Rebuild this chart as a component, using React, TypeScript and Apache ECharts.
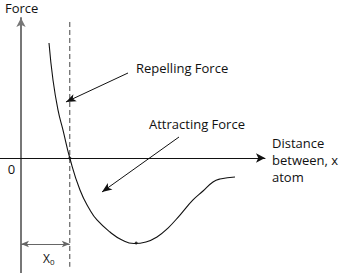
import React, { useEffect, useRef } from "react";
import * as echarts from "echarts";

// Force–distance curve (arbitrary units): x = distance in units of x0, y = force
const curveX = [0.574, 0.656, 0.758, 0.861, 1.0, 1.209, 1.414, 1.557, 1.824, 2.07, 2.316, 2.561, 2.787, 3.012, 3.258, 3.525, 3.73, 3.934, 4.078, 4.385];
const curveY = [1.353, 0.918, 0.565, 0.329, 0, -0.376, -0.612, -0.729, -0.871, -0.965, -1.006, -0.988, -0.929, -0.824, -0.671, -0.494, -0.388, -0.282, -0.247, -0.224];

// Equilibrium separation and potential-well minimum
const x0 = 1.0;
const minPoint = [2.36, -1.0];
const zeroPoint = [1.0, 0];

// Axis ranges
const xRange = [-0.43, 5];
const yRange = [-1.353, 1.647];

// Dashed guide at x0
const guideY = [1.6, -1.28];
// x0 dimension arrow height
const dimY = -1.012;

// Annotation arrows: [from, to]
const repelArrow = [[2.193, 1.0], [0.922, 0.659]];
const attractArrow = [[3.238, 0.247], [1.66, -0.4]];

const FONT = "Open Sans";

export default function App() {
  const ref = useRef<HTMLDivElement>(null);
  useEffect(() => {
    if (!ref.current) return;
    const chart = echarts.init(ref.current, undefined, { renderer: "svg" });
    const curve = curveX.map((x, i) => [x, curveY[i]]);
    chart.setOption({
      animation: false,
      backgroundColor: "#ffffff",
      grid: { left: 0, right: 79, top: 18, bottom: 0 },
      xAxis: {
        type: "value",
        min: xRange[0],
        max: xRange[1],
        axisLine: {
          onZero: true,
          symbol: ["none", "arrow"],
          symbolSize: [7, 9],
          lineStyle: { color: "#111", width: 1 },
        },
        axisTick: { show: false },
        axisLabel: { show: false },
        splitLine: { show: false },
      },
      yAxis: {
        type: "value",
        min: yRange[0],
        max: yRange[1],
        axisLine: {
          onZero: true,
          symbol: ["none", "arrow"],
          symbolSize: [7, 9],
          lineStyle: { color: "#777", width: 2 },
        },
        axisTick: { show: false },
        axisLabel: { show: false },
        splitLine: { show: false },
      },
      series: [
        {
          type: "line",
          data: curve,
          smooth: 0.5,
          showSymbol: false,
          lineStyle: { color: "#111", width: 1.1 },
          z: 3,
        },
        {
          type: "line",
          data: [[x0, guideY[0]], [x0, guideY[1]]],
          showSymbol: false,
          lineStyle: { color: "#444", width: 1, type: [5, 3] },
          z: 2,
        },
        {
          type: "scatter",
          data: [minPoint, zeroPoint],
          symbolSize: 3,
          itemStyle: { color: "#111" },
          z: 4,
        },
        {
          type: "line",
          data: [],
          markLine: {
            silent: true,
            label: { show: false },
            data: [
              [
                { coord: [0, dimY], symbol: "arrow", symbolSize: [5, 8] },
                { coord: [x0, dimY], symbol: "arrow", symbolSize: [5, 8] },
              ],
              [
                { coord: repelArrow[0], symbol: "none", lineStyle: { color: "#111" } },
                { coord: repelArrow[1], symbol: "arrow", symbolSize: [6, 10], lineStyle: { color: "#111" } },
              ],
              [
                { coord: attractArrow[0], symbol: "none", lineStyle: { color: "#111" } },
                { coord: attractArrow[1], symbol: "arrow", symbolSize: [6, 10], lineStyle: { color: "#111" } },
              ],
            ],
            lineStyle: { color: "#666", width: 1, type: "solid" },
          },
        },
      ],
      graphic: [
        { type: "text", x: 5, y: 8, style: { text: "Force", font: `13px '${FONT}'`, fill: "#111", verticalAlign: "middle" } },
        { type: "text", x: 11.5, y: 169, style: { text: "0", font: `13px '${FONT}'`, fill: "#111", align: "center", verticalAlign: "middle" } },
        { type: "text", x: 136, y: 68, style: { text: "Repelling Force", font: `13px '${FONT}'`, fill: "#111", verticalAlign: "middle" } },
        { type: "text", x: 149, y: 124, style: { text: "Attracting Force", font: `13px '${FONT}'`, fill: "#111", verticalAlign: "middle" } },
        { type: "text", x: 272, y: 134.5, style: { text: "Distance\nbetween, x\natom", font: `13px '${FONT}'`, lineHeight: 17, fill: "#111", verticalAlign: "top" } },
        {
          type: "text",
          x: 43,
          y: 258,
          style: {
            text: "{a|X}{b|0}",
            verticalAlign: "middle",
            rich: {
              a: { font: `12px '${FONT}'`, fill: "#111" },
              b: { font: `8px '${FONT}'`, fill: "#111", verticalAlign: "bottom", padding: [6, 0, 0, 0] },
            },
          },
        },
      ],
    });
    return () => chart.dispose();
  }, []);
  return <div ref={ref} style={{ position: "fixed", left: 0, top: 0, width: 344, height: 273 }} />;
}
